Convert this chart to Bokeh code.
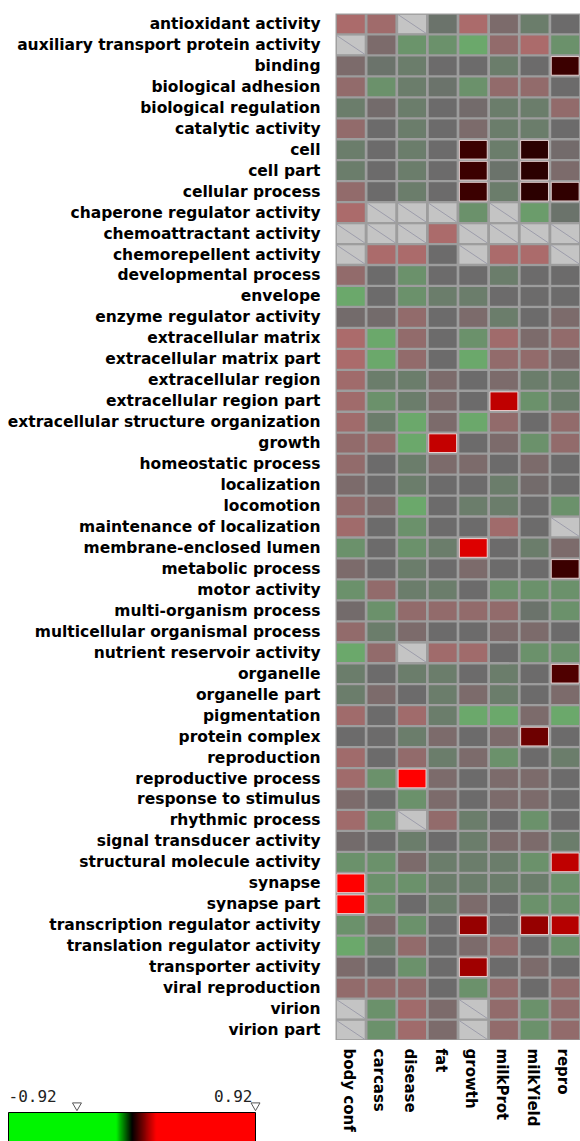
import math
import numpy as np
from bokeh.plotting import figure
from bokeh.models import FactorRange, Range1d, LinearColorMapper, ColumnDataSource
from bokeh.layouts import column, row
from bokeh.core.properties import value
from bokeh.embed import file_html
from bokeh.resources import INLINE

# ---------------- data ----------------
rows = [
    "antioxidant activity", "auxiliary transport protein activity", "binding",
    "biological adhesion", "biological regulation", "catalytic activity", "cell",
    "cell part", "cellular process", "chaperone regulator activity",
    "chemoattractant activity", "chemorepellent activity", "developmental process",
    "envelope", "enzyme regulator activity", "extracellular matrix",
    "extracellular matrix part", "extracellular region", "extracellular region part",
    "extracellular structure organization", "growth", "homeostatic process",
    "localization", "locomotion", "maintenance of localization",
    "membrane-enclosed lumen", "metabolic process", "motor activity",
    "multi-organism process", "multicellular organismal process",
    "nutrient reservoir activity", "organelle", "organelle part", "pigmentation",
    "protein complex", "reproduction", "reproductive process", "response to stimulus",
    "rhythmic process", "signal transducer activity", "structural molecule activity",
    "synapse", "synapse part", "transcription regulator activity",
    "translation regulator activity", "transporter activity", "viral reproduction",
    "virion", "virion part",
]
cols = ["body conf", "carcass", "disease", "fat", "growth", "milkProt", "milkYield", "repro"]

N = None
body_conf = [0.34, N, 0.05, 0.11, -0.035, 0.11, -0.035, -0.035, 0.11, 0.34,
             N, N, 0.11, -0.32, 0.025, 0.34, 0.34, 0.15, 0.15, 0.15,
             0.11, 0.11, 0.05, 0.11, 0.15, -0.075, 0.05, -0.075, 0.025, 0.11,
             -0.32, -0.035, -0.035, 0.15, 0.0, 0.15, 0.15, 0.05, 0.15, 0.025,
             -0.075, 0.6, 0.6, -0.075, -0.32, 0.05, 0.11, N, N]
carcass = [0.15, 0.05, -0.015, -0.075, 0.025, 0.0, 0.0, 0.0, 0.0, N,
           N, 0.34, 0.0, 0.0, 0.025, -0.32, -0.32, -0.035, -0.075, -0.035,
           0.11, 0.0, 0.0, 0.05, 0.0, 0.0, 0.0, 0.11, -0.075, -0.035,
           0.11, 0.0, 0.05, 0.0, 0.0, 0.0, -0.075, 0.0, -0.075, 0.0,
           -0.075, -0.075, -0.075, 0.05, -0.035, 0.0, 0.11, -0.075, -0.075]
disease = [N, -0.08, -0.035, -0.035, -0.035, -0.035, -0.035, -0.035, -0.035, N,
           N, 0.34, -0.075, -0.075, 0.11, 0.11, 0.11, -0.035, -0.035, -0.32,
           -0.32, -0.035, -0.035, -0.32, -0.075, -0.075, -0.035, -0.035, 0.11, 0.05,
           N, -0.035, 0.0, 0.15, -0.035, 0.11, 0.6, -0.075, N, -0.035,
           0.05, -0.075, 0.0, -0.075, 0.11, -0.075, 0.11, 0.15, 0.15]
fat = [-0.015, -0.075, 0.0, -0.015, 0.0, 0.0, 0.0, 0.0, 0.0, N,
       0.34, 0.0, 0.0, -0.035, 0.0, 0.0, 0.0, 0.05, 0.05, 0.05,
       0.14, 0.05, 0.0, 0.0, 0.0, -0.035, 0.0, -0.035, 0.11, 0.0,
       0.15, -0.035, -0.035, -0.035, 0.05, -0.035, 0.05, 0.05, 0.11, 0.0,
       -0.035, -0.035, -0.035, 0.0, 0.0, 0.0, 0.0, 0.05, 0.05]
growth = [0.34, -0.32, 0.0, -0.075, 0.025, 0.05, 0.042, 0.042, 0.04, -0.075,
          N, N, 0.0, -0.035, 0.05, -0.075, -0.32, 0.0, 0.0, -0.32,
          0.0, 0.05, 0.0, -0.035, 0.0, 0.155, 0.05, 0.0, 0.11, 0.0,
          0.15, 0.0, 0.05, -0.32, 0.0, 0.05, 0.0, 0.0, -0.035, -0.035,
          -0.035, -0.035, 0.05, 0.105, 0.05, 0.113, -0.075, N, N]
milkProt = [0.05, 0.11, -0.035, 0.11, -0.035, -0.035, -0.035, -0.015, -0.035, N,
            N, 0.34, -0.035, 0.0, -0.035, 0.15, 0.11, 0.05, 0.134, 0.11,
            0.05, 0.0, -0.035, -0.035, 0.15, 0.0, 0.0, -0.075, 0.11, 0.05,
            0.0, -0.035, -0.035, -0.32, 0.05, -0.075, 0.05, 0.05, 0.0, 0.05,
            -0.035, -0.035, 0.0, 0.0, 0.11, 0.0, 0.11, 0.11, 0.11]
milkYield = [-0.035, 0.34, 0.0, 0.11, -0.035, -0.035, 0.03, 0.03, 0.03, -0.095,
             N, 0.34, 0.0, 0.0, 0.0, 0.05, 0.11, -0.035, -0.075, 0.0,
             -0.075, 0.05, 0.025, 0.0, 0.0, -0.035, 0.0, -0.075, -0.015, 0.05,
             -0.075, 0.0, 0.0, 0.05, 0.078, 0.0, 0.05, 0.05, -0.075, 0.05,
             -0.075, -0.035, -0.075, 0.105, 0.0, 0.05, 0.0, -0.075, -0.075]
repro = [0.0, -0.075, 0.042, 0.0, 0.11, 0.0, 0.025, 0.05, 0.035, -0.015,
         N, N, 0.0, 0.0, 0.05, 0.11, 0.05, -0.035, -0.035, 0.11,
         0.11, 0.0, 0.0, -0.075, N, 0.05, 0.042, -0.075, -0.075, 0.0,
         -0.075, 0.056, 0.05, -0.32, 0.0, -0.035, 0.0, 0.0, 0.0, -0.035,
         0.134, -0.075, -0.075, 0.127, -0.075, 0.0, 0.11, 0.11, 0.11]

series = {"body conf": body_conf, "carcass": carcass, "disease": disease, "fat": fat,
          "growth": growth, "milkProt": milkProt, "milkYield": milkYield, "repro": repro}

significant = [
    ("binding", "repro"), ("cell", "growth"), ("cell", "milkYield"),
    ("cell part", "growth"), ("cell part", "milkYield"),
    ("cellular process", "growth"), ("cellular process", "milkYield"),
    ("cellular process", "repro"), ("extracellular region part", "milkProt"),
    ("growth", "fat"), ("membrane-enclosed lumen", "growth"),
    ("metabolic process", "repro"), ("organelle", "repro"),
    ("protein complex", "milkYield"), ("reproductive process", "disease"),
    ("structural molecule activity", "repro"), ("synapse", "body conf"),
    ("synapse part", "body conf"), ("transcription regulator activity", "growth"),
    ("transcription regulator activity", "milkYield"),
    ("transcription regulator activity", "repro"), ("transporter activity", "growth"),
]

scale_low, scale_high = -0.92, 0.92
scale_labels = ["-0.92", "0.92"]
scale_handles = [-0.41, 0.92]

# ---------------- colour scale (green - black - red) ----------------
def ramp_color(v):
    if v < 0:
        f = min(1.0, -v / 0.12)
        return "#%02x%02x%02x" % (0, int(round(245 * f)), 0)
    f = min(1.0, v / 0.18)
    return "#%02x%02x%02x" % (int(round(255 * f)), 0, 0)

NP = 512
palette = [ramp_color(scale_low + (i + 0.5) * (scale_high - scale_low) / NP) for i in range(NP)]
mapper = LinearColorMapper(palette=palette, low=scale_low, high=scale_high, nan_color="#c4c4c4")

# ---------------- sources ----------------
sig_set = set(significant)
xs, ys, vs, fa, la = [], [], [], [], []
mx0, my0, mx1, my1 = [], [], [], []
for c in cols:
    for i, r in enumerate(rows):
        v = series[c][i]
        xs.append(c)
        ys.append(r)
        if v is None:
            vs.append(float("nan"))
            fa.append(1.0)
            la.append(0.0)
            mx0.append((c, -0.455)); my0.append((r, 0.445))
            mx1.append((c, 0.455)); my1.append((r, -0.445))
        else:
            vs.append(v)
            s = (r, c) in sig_set
            fa.append(1.0 if s else 0.25)
            la.append(0.9 if s else 0.0)

src = ColumnDataSource(dict(x=xs, y=ys, v=vs, fa=fa, la=la))
msrc = ColumnDataSource(dict(x0=mx0, y0=my0, x1=mx1, y1=my1))

FONT = "DejaVu Sans"
FS = "15.5px"
W_LEFT, W_MAP = 335, 245
H_MAIN, H_BOT = 1040, 101

# ---------------- main heatmap ----------------
p = figure(width=W_LEFT + W_MAP, height=H_MAIN,
           x_range=FactorRange(*cols, range_padding=0),
           y_range=FactorRange(*rows[::-1], range_padding=0),
           x_axis_location=None, y_axis_location="left",
           min_border_left=W_LEFT, min_border_right=0, min_border_top=13, min_border_bottom=0,
           output_backend="svg", toolbar_location=None,
           background_fill_color="#9d9d9d", border_fill_color="white",
           outline_line_color=None)
p.grid.visible = False
p.yaxis.major_tick_line_color = None
p.yaxis.minor_tick_line_color = None
p.yaxis.axis_line_color = None
p.yaxis.major_label_standoff = 9
p.yaxis.major_label_text_font = FONT
p.yaxis.major_label_text_font_style = "bold"
p.yaxis.major_label_text_font_size = FS
p.yaxis.major_label_text_color = "black"

p.rect(x="x", y="y", width=0.91, height=0.89, source=src,
       fill_color="#8f8f8f", line_color=None)
p.rect(x="x", y="y", width=0.91, height=0.89, source=src,
       fill_color={"field": "v", "transform": mapper}, fill_alpha="fa",
       line_color="#f2dcdc", line_alpha="la", line_width=1)
p.segment(x0="x0", y0="y0", x1="x1", y1="y1", source=msrc,
          line_color="#9d9dab", line_width=1)

# ---------------- colour scale legend (bottom-left) ----------------
bar_px = 247
unit = (scale_high - scale_low) / bar_px
pc = figure(width=W_LEFT, height=H_BOT,
            x_range=Range1d(scale_low - 8 * unit, scale_low + (W_LEFT - 8) * unit),
            y_range=Range1d(0, H_BOT),
            x_axis_location=None, y_axis_location=None,
            min_border_left=0, min_border_right=0, min_border_top=0, min_border_bottom=0,
            output_backend="svg", toolbar_location=None,
            background_fill_color="white", border_fill_color="white",
            outline_line_color=None)
pc.grid.visible = False
ramp = np.linspace(scale_low, scale_high, NP).reshape(1, NP)
pc.image(image=[ramp], x=scale_low, y=-6, dw=scale_high - scale_low, dh=35,
         color_mapper=mapper)
pc.quad(left=[scale_low], right=[scale_high], bottom=[-6], top=[29],
        fill_color=None, line_color="black", line_width=1)
pc.text(x=[scale_low], y=[46], text=scale_labels[:1], text_align="left",
        text_baseline="alphabetic", text_font=value("DejaVu Sans Mono"),
        text_font_size="16px", text_color="#222222")
pc.text(x=[scale_high], y=[46], text=scale_labels[1:], text_align="right",
        text_baseline="alphabetic", text_font=value("DejaVu Sans Mono"),
        text_font_size="16px", text_color="#222222", x_offset=-3)
pc.scatter(x=scale_handles, y=[36] * len(scale_handles), marker="inverted_triangle",
           size=9, fill_color="white", line_color="#555555", line_width=1)

# ---------------- column labels (bottom-right) ----------------
px = figure(width=W_MAP, height=H_BOT, x_range=p.x_range, y_range=Range1d(0, H_BOT),
            x_axis_location=None, y_axis_location=None,
            min_border_left=0, min_border_right=0, min_border_top=0, min_border_bottom=0,
            output_backend="svg", toolbar_location=None,
            background_fill_color="white", border_fill_color="white",
            outline_line_color=None)
px.grid.visible = False
px.text(x=cols, y=[H_BOT - 8] * len(cols), text=cols, angle=-math.pi / 2,
        text_align="left", text_baseline="middle", x_offset=-2,
        text_font=value(FONT), text_font_style="bold", text_font_size="15px",
        text_color="black")

layout = column(p, row(pc, px))
open("out.html", "w").write(file_html(layout, INLINE))
